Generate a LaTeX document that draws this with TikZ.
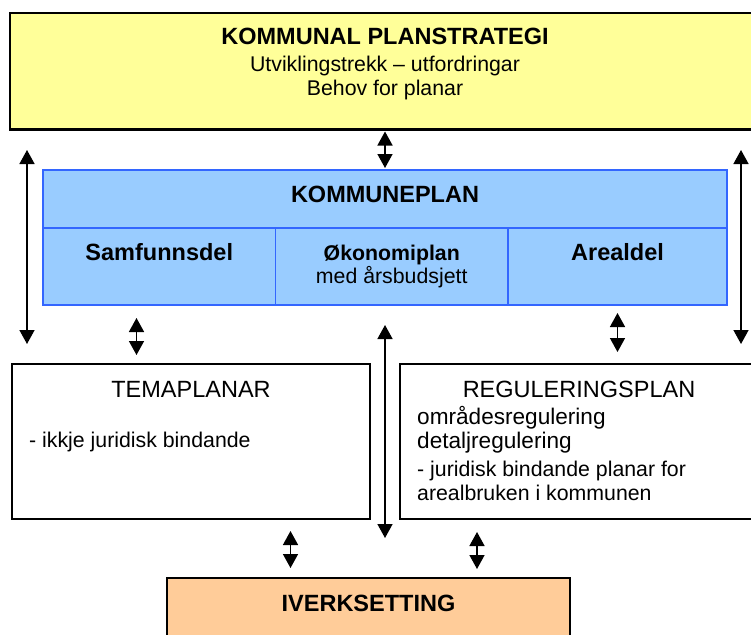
\documentclass[tikz,border=0pt]{standalone}
\usepackage{fontspec}
\setmainfont{Liberation Sans}
\usepackage{xcolor}
\usepackage{tikz}
\usetikzlibrary{arrows.meta, positioning}
\definecolor{strategigul}{HTML}{FFFF99}
\definecolor{planblaa}{HTML}{99CCFF}
\definecolor{planramme}{HTML}{3366FF}
\definecolor{iverkoransje}{HTML}{FFCC99}
\newcommand{\storskrift}{\fontsize{23.5pt}{27pt}\selectfont}
\newcommand{\mellomskrift}{\fontsize{22.6pt}{26pt}\selectfont}
\newcommand{\vanlegskrift}{\fontsize{21.3pt}{22.5pt}\selectfont}
\tikzstyle{strategiboks} = [rectangle, anchor=north west, outer sep=0pt, minimum width=750pt, minimum height=116.5pt, draw=black, line width=2.2pt, fill=strategigul]
\tikzstyle{planhovud} = [rectangle, anchor=north west, outer sep=0pt, minimum width=684pt, minimum height=58pt, inner sep=0pt, text height=17pt, text depth=10.4pt, draw=planramme, line width=1.8pt, fill=planblaa, font=\storskrift\bfseries]
\tikzstyle{plandel} = [rectangle, anchor=north west, outer sep=0pt, minimum height=77pt, inner sep=0pt, align=center, draw=planramme, line width=1.8pt, fill=planblaa]
\tikzstyle{planboks} = [rectangle, anchor=north west, outer sep=0pt, minimum width=358pt, minimum height=155pt, draw=black, line width=1.8pt, fill=white]
\tikzstyle{iverkboks} = [rectangle, anchor=north west, outer sep=0pt, minimum width=403pt, minimum height=80pt, draw=black, line width=1.8pt, fill=iverkoransje]
\tikzstyle{tekst} = [inner sep=0pt, anchor=base]
\tikzstyle{pil} = [line width=1.5pt, {Triangle[width=15pt,length=14pt]}-{Triangle[width=15pt,length=14pt]}]

\begin{document}
\begin{tikzpicture}[x=1pt, y=-1pt]
\useasboundingbox (0,0) rectangle (751,634);

\node (strategi) [strategiboks] at (10,13) {};
\node (strategitittel) [tekst, font=\storskrift\bfseries] at ([yshift=-32pt]strategi.north) {KOMMUNAL PLANSTRATEGI};
\node (utvikling) [tekst, font=\vanlegskrift] at ([yshift=-26.5pt]strategitittel.base) {Utviklingstrekk – utfordringar};
\node (behov) [tekst, font=\vanlegskrift] at ([yshift=-23.5pt]utvikling.base) {Behov for planar};

\node (kommuneplan) [planhovud] at (43,170) {KOMMUNEPLAN};
\node (samfunn) [plandel, minimum width=232.5pt, text height=17pt, text depth=28.6pt, font=\storskrift\bfseries] at (kommuneplan.south west) {Samfunnsdel};
\node (okonomi) [plandel, minimum width=232.5pt, font=\vanlegskrift] at (samfunn.north east) {\textbf{Økonomiplan}\\ med årsbudsjett};
\node (areal) [plandel, minimum width=219pt, text height=17pt, text depth=28.6pt, font=\storskrift\bfseries] at (okonomi.north east) {Arealdel};

\node (temaplanar) [planboks] at (12,364) {};
\node (temaplanartittel) [tekst, font=\storskrift] at ([yshift=-33pt]temaplanar.north) {TEMAPLANAR};
\node (ikkjebindande) [tekst, anchor=base west, font=\vanlegskrift] at ([xshift=17pt, yshift=-83.3pt]temaplanar.north west) {- ikkje juridisk bindande};

\node (regulering) [planboks] at (400,364) {};
\node (reguleringtittel) [tekst, font=\storskrift] at ([yshift=-33pt]regulering.north) {REGULERINGSPLAN};
\node (omraade) [tekst, anchor=base west, font=\mellomskrift] at ([xshift=17pt, yshift=-60pt]regulering.north west) {områdesregulering};
\node (detalj) [tekst, anchor=base west, font=\mellomskrift] at ([yshift=-24pt]omraade.base west) {detaljregulering};
\node (bindande) [tekst, anchor=base west, font=\vanlegskrift] at ([yshift=-28.5pt]detalj.base west) {- juridisk bindande planar for};
\node (arealbruk) [tekst, anchor=base west, font=\vanlegskrift] at ([yshift=-23.5pt]bindande.base west) {arealbruken i kommunen};

\node (iverk) [iverkboks] at (167,578) {};
\node (iverktittel) [tekst, font=\storskrift\bfseries] at ([yshift=-33.7pt]iverk.north) {IVERKSETTING};

\draw [pil, shorten <=2pt, shorten >=2pt] (strategi.south) -- (kommuneplan.north);
\draw [pil, shorten <=20.5pt, shorten >=20pt] ([xshift=17pt]strategi.south west) -- ([xshift=15pt]temaplanar.north west);
\draw [pil, shorten <=20.5pt, shorten >=20pt] ([xshift=-19pt]strategi.south east) -- ([xshift=-17pt]regulering.north east);
\draw [pil, shorten <=13pt, shorten >=9pt] ([xshift=-22.75pt]samfunn.south) -- ([xshift=-22.75pt]samfunn.south |- temaplanar.north);
\draw [pil, shorten <=8pt, shorten >=12pt] (areal.south) -- (areal.south |- regulering.north);
\draw [pil, shorten <=20pt, shorten >=40pt] (okonomi.south -| kommuneplan.north) -- (iverk.north -| kommuneplan.north);
\draw [pil, shorten <=12pt, shorten >=10pt] ([xshift=99.5pt]temaplanar.south) -- ([xshift=99.5pt]temaplanar.south |- iverk.north);
\draw [pil, shorten <=13pt, shorten >=9pt] ([xshift=-102pt]regulering.south) -- ([xshift=-102pt]regulering.south |- iverk.north);

\end{tikzpicture}
\end{document}
